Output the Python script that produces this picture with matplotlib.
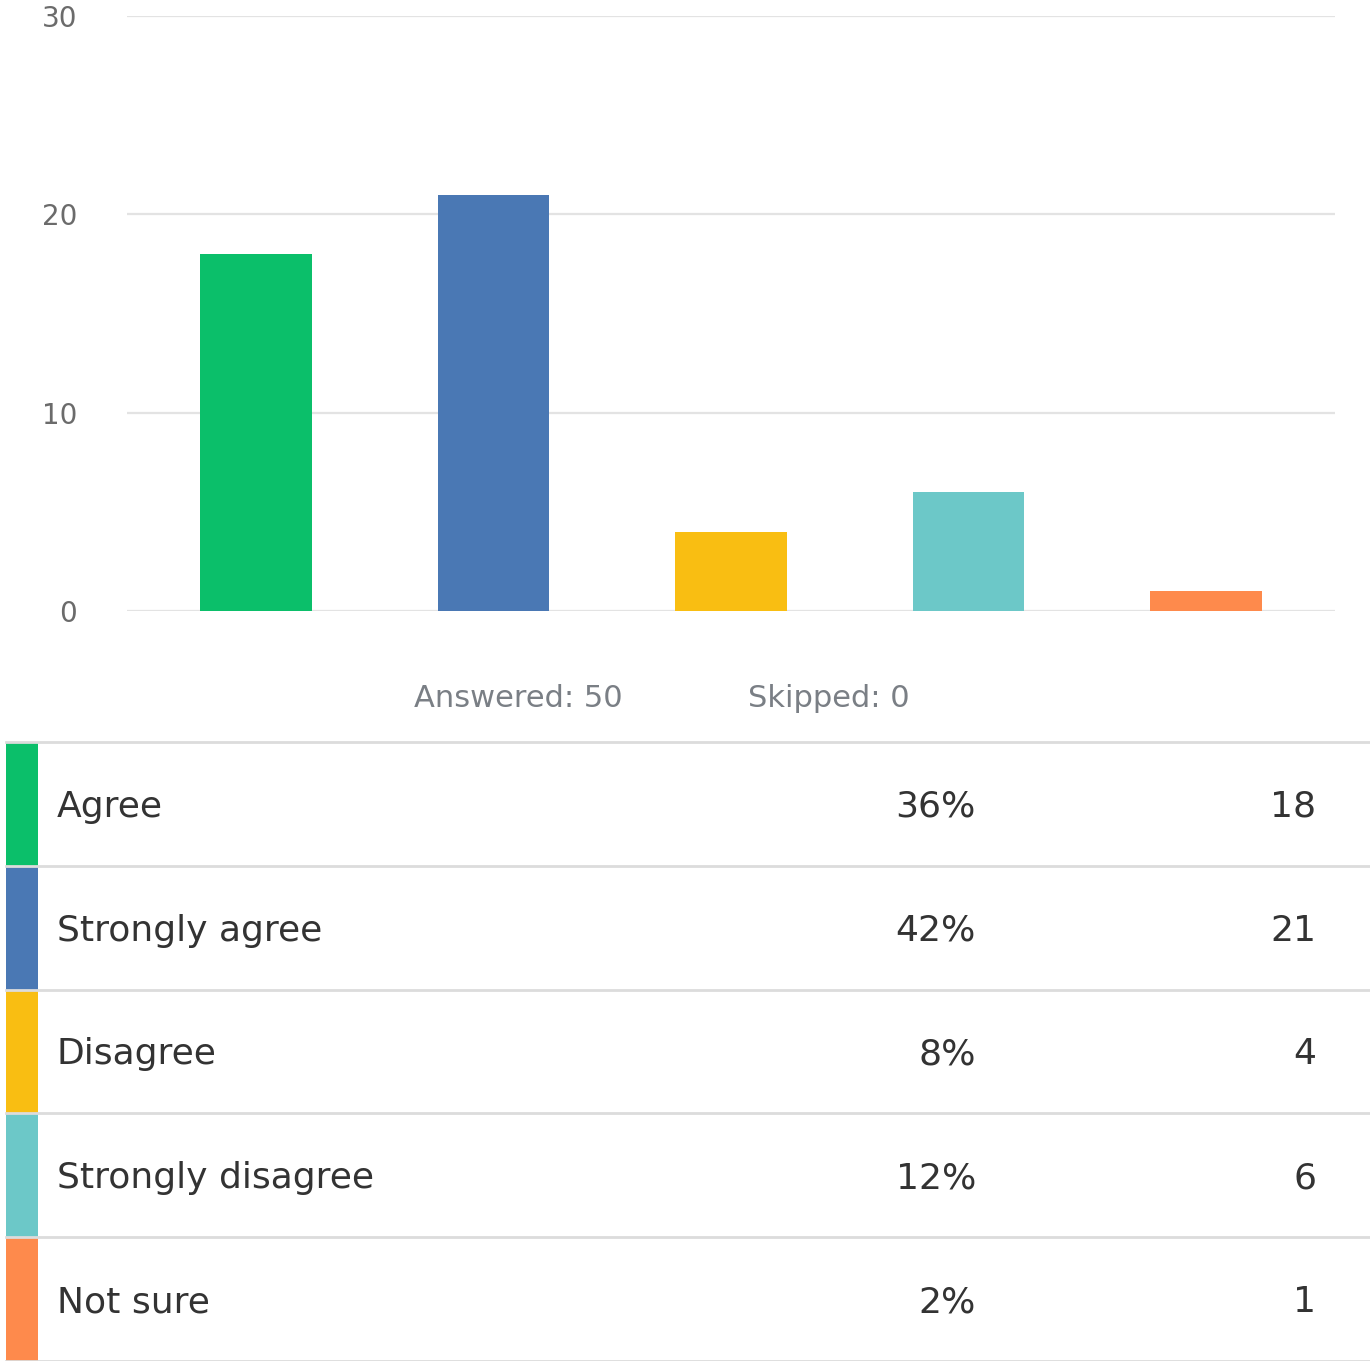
import matplotlib
matplotlib.use("Agg")
import matplotlib.pyplot as plt

plt.rcParams['font.family'] = ['DejaVu Sans']

categories = ["Agree", "Strongly agree", "Disagree", "Strongly disagree", "Not sure"]
counts = [18, 21, 4, 6, 1]
percents = ["36%", "42%", "8%", "12%", "2%"]
colors = ["#0bbf6a", "#4a78b4", "#f9be12", "#6cc8c8", "#fe8a4c"]
yticks = [0, 10, 20, 30]
answered = 50
skipped = 0

W, H = 1370, 1361
fig = plt.figure(figsize=(W / 100, H / 100), dpi=100)

# bar chart
ax = fig.add_axes([127 / W, 1 - 611 / H, (1335 - 127) / W, (611 - 16) / H])
x = list(range(len(categories)))
ax.bar(x, counts, width=0.47, color=colors, zorder=3)
ax.set_xlim(-0.543, 4.543)
ax.set_ylim(0, 30)
ax.set_yticks(yticks)
ax.set_xticks([])
ax.grid(axis="y", color="#e3e3e3", linewidth=1.6, zorder=0)
for s in ax.spines.values():
    s.set_visible(False)
ax.tick_params(axis="y", length=0, pad=36, labelsize=20, labelcolor="#6b6b6b")

fig.text(518 / W, 1 - 707 / H, f"Answered: {answered}", ha="center", va="baseline",
         fontsize=22, color="#7a7f85")
fig.text(829 / W, 1 - 707 / H, f"Skipped: {skipped}", ha="center", va="baseline",
         fontsize=22, color="#7a7f85")

# table
tb = fig.add_axes([0, 0, 1, (H - 742) / H])
n = len(categories)
tb.set_xlim(0, 1)
tb.set_ylim(n - 0.5, -0.5)
tb.axis("off")
tb.barh(x, width=32 / W, left=6 / W, height=1, color=colors)
for i in range(n + 1):
    tb.plot([6 / W, 1], [i - 0.5, i - 0.5], color="#dcdcdc", linewidth=2, clip_on=False)
for i in range(n):
    tb.text(57 / W, i + 0.105, categories[i], ha="left", va="baseline", fontsize=26, color="#333333")
    tb.text(976 / W, i + 0.105, percents[i], ha="right", va="baseline", fontsize=26, color="#333333")
    tb.text(1316 / W, i + 0.105, str(counts[i]), ha="right", va="baseline", fontsize=26, color="#333333")

fig.savefig("out.png", dpi=100, facecolor="white")
